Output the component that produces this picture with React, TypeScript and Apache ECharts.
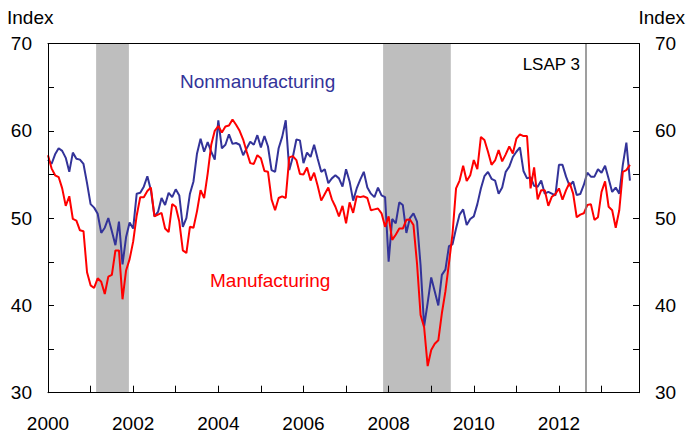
import React, { useEffect, useRef } from "react";
import * as echarts from "echarts";

// Monthly data, January 2000 through September 2013
const START_YEAR = 2000;

const manufacturing: number[] = [
  // 2000
  57.2, 55.7, 54.9, 54.7, 53.4, 51.4, 52.5, 49.9, 49.7, 48.6, 48.5, 43.8,
  // 2001
  42.3, 42.0, 43.1, 42.7, 41.3, 43.3, 43.5, 46.3, 46.3, 40.7, 44.0, 45.3,
  // 2002
  47.3, 50.3, 52.4, 52.4, 53.1, 53.5, 50.2, 50.4, 50.6, 48.8, 48.4, 51.6,
  // 2003
  51.3, 49.6, 46.3, 46.0, 49.0, 48.9, 50.8, 53.2, 52.3, 55.1, 58.4, 60.0,
  // 2004
  60.55, 59.8, 60.5, 60.6, 61.3, 60.7, 60.0, 59.0, 57.6, 56.3, 56.2, 57.2,
  // 2005
  56.85, 55.4, 55.3, 52.15, 50.9, 52.3, 52.5, 52.3, 56.95, 57.1, 56.65, 55.05,
  // 2006
  55.0, 55.8, 54.3, 55.2, 53.7, 52.0, 52.75, 53.5, 52.15, 51.3, 50.2, 51.4,
  // 2007
  49.4, 51.8, 50.6, 52.5, 52.4, 52.5, 52.3, 50.9, 51.0, 51.1, 50.55, 49.0,
  // 2008
  50.2, 47.5, 48.1, 48.8, 48.8, 49.8, 49.85, 49.2, 44.8, 38.9, 37.5, 33.05,
  // 2009
  34.9, 35.6, 36.0, 39.1, 41.6, 44.8, 48.2, 53.4, 54.3, 56.0, 54.25, 54.9,
  // 2010
  56.65, 55.6, 59.3, 58.95, 57.6, 56.1, 56.6, 57.8, 56.5, 57.3, 58.2, 57.4,
  // 2011
  59.1, 59.6, 59.4, 59.4, 53.4, 55.8, 52.15, 53.2, 53.2, 51.4, 52.45, 52.75,
  // 2012
  53.4, 52.1, 53.2, 54.05, 52.8, 50.1, 50.4, 50.55, 51.5, 51.6, 49.8, 50.1,
  // 2013
  53.0, 54.2, 51.3, 50.9, 48.9, 50.9, 55.3, 55.5, 56.1,
];

const nonmanufacturing: number[] = [
  // 2000
  56.7, 56.2, 57.3, 58.0, 57.7, 56.9, 55.3, 57.5, 56.8, 56.7, 56.2, 54.0,
  // 2001
  51.6, 51.2, 50.5, 48.3, 48.9, 50.0, 48.5, 46.9, 49.6, 44.7, 47.8, 49.5,
  // 2002
  48.8, 52.8, 52.9, 53.6, 54.8, 53.2, 50.2, 50.7, 52.3, 51.5, 52.9, 52.4,
  // 2003
  53.3, 52.6, 49.0, 50.0, 52.8, 54.2, 57.4, 59.1, 57.6, 58.7, 57.6, 56.7,
  // 2004
  61.2, 58.0, 58.4, 59.6, 58.5, 58.6, 58.4, 57.2, 58.0, 58.75, 58.4, 59.5,
  // 2005
  58.1, 59.4, 58.2, 55.5, 55.3, 58.0, 59.3, 61.2, 55.5, 57.0, 59.0, 58.9,
  // 2006
  56.3, 57.5, 57.0, 58.4, 56.8, 55.3, 55.6, 54.0, 54.55, 54.9, 54.55, 53.6,
  // 2007
  55.6, 54.2, 52.0, 53.4, 54.4, 55.3, 53.5, 52.8, 52.4, 53.5, 52.6, 52.4,
  // 2008
  45.0, 49.9, 49.4, 51.8, 51.5, 48.3, 50.0, 50.55, 49.6, 44.6, 37.6, 40.3,
  // 2009
  43.2, 41.6, 40.0, 43.5, 44.1, 46.8, 47.0, 48.8, 50.4, 51.0, 49.2, 49.9,
  // 2010
  50.2, 51.6, 53.4, 54.8, 55.3, 54.5, 54.3, 52.8, 53.5, 55.3, 55.9, 57.0,
  // 2011
  57.6, 58.1, 55.4, 54.55, 54.7, 53.7, 53.6, 54.3, 52.8, 53.0, 52.8, 52.6,
  // 2012
  56.1, 56.1, 54.75, 53.7, 54.2, 52.65, 52.75, 53.8, 55.2, 54.75, 54.75, 55.6,
  // 2013
  55.2, 56.0, 54.5, 53.0, 53.5, 52.8, 56.1, 58.65, 54.3,
];

// Recession periods (decimal years)
const recessions: [number, number][] = [
  [2001.13, 2001.9],
  [2007.87, 2009.46],
];

// LSAP 3 announcement (decimal year)
const lsap3 = 2012.64;

const yTicks = [30, 40, 50, 60, 70];
const xLabelYears = [2000, 2002, 2004, 2006, 2008, 2010, 2012];

const FONT = "'Liberation Sans', Arial, Helvetica, sans-serif";

function toPairs(vals: number[]): [number, number][] {
  return vals.map((v, i) => [START_YEAR + i / 12, v]);
}

export default function App() {
  const ref = useRef<HTMLDivElement>(null);

  useEffect(() => {
    if (!ref.current) return;
    const chart = echarts.init(ref.current, undefined, { renderer: "svg" });

    const yAxisCommon = {
      type: "value" as const,
      min: 30,
      max: 70,
      interval: 5,
      z: 10,
      splitLine: { show: false },
      axisLine: { show: true, lineStyle: { color: "#000", width: 1 } },
      axisTick: { show: true, inside: true, length: 6, lineStyle: { color: "#000", width: 1 } },
      axisLabel: {
        margin: 16,
        color: "#000",
        fontSize: 19,
        fontFamily: FONT,
        formatter: (v: number) => (yTicks.includes(v) ? String(v) : ""),
      },
    };

    chart.setOption({
      animation: false,
      backgroundColor: "#fff",
      grid: { left: 48, right: 47, top: 43.5, bottom: 46.3, containLabel: false },
      xAxis: [
        {
          type: "value",
          min: 2000,
          max: 2013.88,
          interval: 1,
          z: 10,
          splitLine: { show: false },
          axisLine: { show: true, onZero: false, lineStyle: { color: "#000", width: 1 } },
          axisTick: { show: true, inside: true, length: 7, lineStyle: { color: "#000", width: 1 } },
          axisLabel: {
            margin: 21,
            color: "#000",
            fontSize: 19,
            fontFamily: FONT,
            showMaxLabel: false,
            formatter: (v: number) => (xLabelYears.includes(v) ? String(v) : ""),
          },
        },
        {
          type: "value",
          position: "top",
          min: 2000,
          max: 2013.88,
          z: 10,
          splitLine: { show: false },
          axisLine: { show: true, onZero: false, lineStyle: { color: "#000", width: 1 } },
          axisTick: { show: false },
          axisLabel: { show: false },
        },
      ],
      yAxis: [
        { ...yAxisCommon, position: "left" },
        { ...yAxisCommon, position: "right" },
      ],
      series: [
        {
          name: "shading",
          type: "line",
          z: 1,
          data: [[2000, 50]],
          symbol: "none",
          lineStyle: { width: 0, opacity: 0 },
          silent: true,
          markArea: {
            silent: true,
            itemStyle: { color: "#BEBEBE" },
            data: recessions.map(([a, b]) => [{ xAxis: a }, { xAxis: b }]),
          },
          markLine: {
            silent: true,
            symbol: ["none", "none"],
            label: { show: false },
            lineStyle: { color: "#7f7f7f", width: 1.5, type: "solid" },
            data: [{ xAxis: lsap3 }],
          },
        },
        {
          name: "Nonmanufacturing",
          type: "line",
          z: 3,
          data: toPairs(nonmanufacturing),
          symbol: "none",
          lineStyle: { color: "#333399", width: 2 },
        },
        {
          name: "Manufacturing",
          type: "line",
          z: 4,
          data: toPairs(manufacturing),
          symbol: "none",
          lineStyle: { color: "#FF0000", width: 2 },
        },
      ],
      graphic: [
        {
          type: "text",
          x: 7,
          y: 17,
          style: { text: "Index", fontSize: 19, fontFamily: FONT, fill: "#000", verticalAlign: "middle" },
        },
        {
          type: "text",
          x: 685,
          y: 17,
          style: { text: "Index", fontSize: 19, fontFamily: FONT, fill: "#000", verticalAlign: "middle", align: "right" },
        },
        {
          type: "text",
          x: 180,
          y: 81,
          z: 20,
          style: { text: "Nonmanufacturing", fontSize: 19, fontFamily: FONT, fill: "#333399", verticalAlign: "middle" },
        },
        {
          type: "text",
          x: 210,
          y: 280,
          z: 20,
          style: { text: "Manufacturing", fontSize: 19, fontFamily: FONT, fill: "#FF0000", verticalAlign: "middle" },
        },
        {
          type: "text",
          x: 580,
          y: 64,
          z: 20,
          style: { text: "LSAP 3", fontSize: 17, fontFamily: FONT, fill: "#000", verticalAlign: "middle", align: "right" },
        },
      ],
    });

    return () => chart.dispose();
  }, []);

  return (
    <div
      ref={ref}
      style={{ position: "fixed", left: 0, top: 0, width: 686, height: 439, background: "#fff" }}
    />
  );
}
